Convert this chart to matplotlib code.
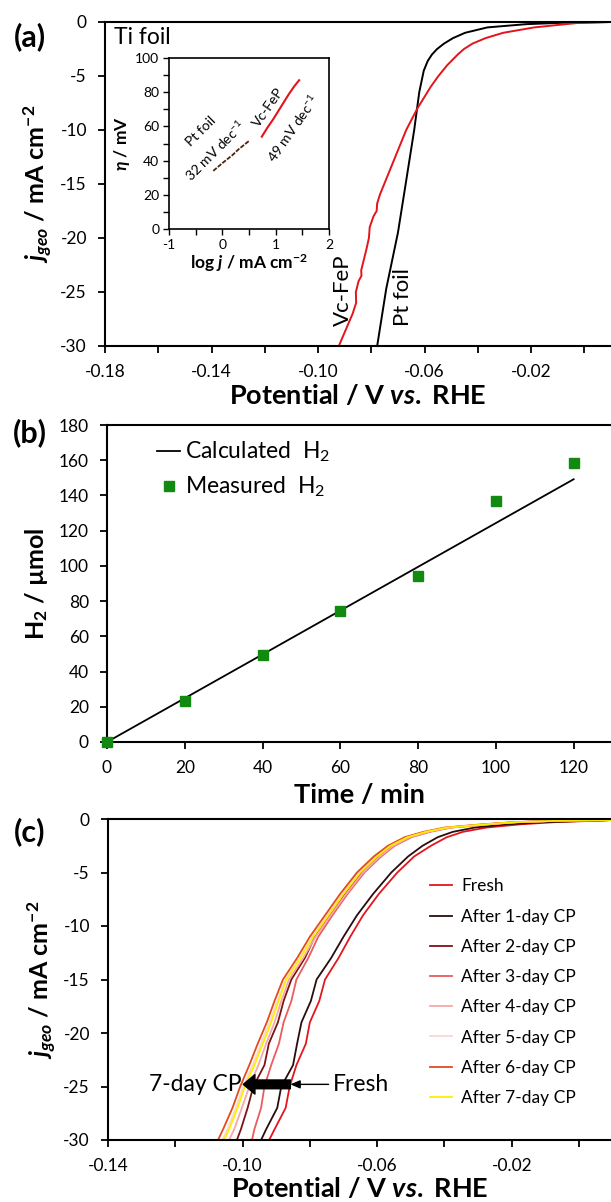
import matplotlib
matplotlib.use('Agg')
import matplotlib.pyplot as plt
from matplotlib.ticker import MultipleLocator, FixedLocator, FormatStrFormatter

plt.rcParams['font.family'] = ['Lato', 'DejaVu Sans']
plt.rcParams['mathtext.fontset'] = 'custom'
plt.rcParams['mathtext.rm'] = 'Lato:bold'
plt.rcParams['mathtext.it'] = 'Lato:italic:bold'
plt.rcParams['mathtext.bf'] = 'Lato:bold'
plt.rcParams['axes.unicode_minus'] = False

# ── (a) polarisation curves ──────────────────
J_PT = [0, -0.06, -0.2, -0.5, -1.0, -1.5, -2.0, -2.5, -3.0, -3.6, -4.5, -6.5, -10,
        -15, -19.5, -24.7, -30]
E_PT = [0.0100, -0.0071, -0.0218, -0.0364, -0.0448, -0.0494, -0.0527, -0.0553,
        -0.0572, -0.0588, -0.0603, -0.0620, -0.0639, -0.0671, -0.0700, -0.0744, -0.0778]

J_VC = [0, -0.1, -0.2, -0.5, -1, -1.5, -2, -2.5, -3, -4, -5, -6, -8, -10, -12, -14,
        -16, -16.8, -17.5, -18, -19, -20, -21, -22, -23, -23.5, -24, -25, -26, -27, -30]
E_VC = [0.0100, -0.0030, -0.0070, -0.0188, -0.0305, -0.0372, -0.0420, -0.0452,
        -0.0475, -0.0515, -0.0548, -0.0577, -0.0627, -0.0669, -0.0702, -0.0735,
        -0.0768, -0.0778, -0.0780, -0.0792, -0.0806, -0.0809, -0.0818, -0.0828,
        -0.0838, -0.0837, -0.0848, -0.0858, -0.0857, -0.0870, -0.0922]

# inset Tafel
LOGJ_PT = [-0.17, 0.0, 0.1, 0.2, 0.3, 0.4, 0.5]
ETA_PT = [34, 38.5, 41, 43.5, 46.5, 49, 51.5]
LOGJ_VC = [0.74, 0.85, 0.95, 1.05, 1.15, 1.25, 1.35, 1.44]
ETA_VC = [54, 59.5, 64, 69, 74, 79, 83.5, 87]

# ── (b) faradaic efficiency ──────────────────
TIME = [0, 20, 40, 60, 80, 100, 120]
H2_MEAS = [0, 23.5, 49.3, 74.2, 94.3, 137, 158.7]
TIME_CALC = [0, 120]
H2_CALC = [0, 149.2]

# ── (c) stability ────────────────────────────
J_C = [-0.1, -0.15, -0.3, -0.5, -0.8, -1.2, -1.7, -2.5, -3.5, -5, -7, -9, -11,
       -13, -15, -17, -19, -21, -23, -25, -27, -29, -30]
E_FRESH = [0.0095, 0.0060, -0.0075, -0.0175, -0.0275, -0.0345, -0.0393, -0.0440,
           -0.0490, -0.0540, -0.0595, -0.0642, -0.0680, -0.0715, -0.0755, -0.0772,
           -0.0800, -0.0812, -0.0840, -0.0860, -0.0872, -0.0905, -0.0921]
E_D1 = [0.0095, 0.0040, -0.0105, -0.0215, -0.0310, -0.0375, -0.0420, -0.0465,
        -0.0508, -0.0558, -0.0612, -0.0660, -0.0700, -0.0737, -0.0780, -0.0797,
        -0.0825, -0.0838, -0.0850, -0.0885, -0.0897, -0.0930, -0.0945]
E_D2 = [0.0095, -0.0045, -0.0188, -0.0277, -0.0388, -0.0450, -0.0505, -0.0555,
        -0.0595, -0.0645, -0.0695, -0.0740, -0.0785, -0.0815, -0.0855, -0.0878,
        -0.0895, -0.0922, -0.0935, -0.0968, -0.0985, -0.1005, -0.1017]
E_D3 = [0.0095, -0.0040, -0.0180, -0.0270, -0.0380, -0.0443, -0.0498, -0.0548,
        -0.0588, -0.0638, -0.0688, -0.0733, -0.0775, -0.0805, -0.0840, -0.0855,
        -0.0878, -0.0892, -0.0915, -0.0935, -0.0945, -0.0965, -0.0972]
E_D4 = [0.0095, -0.0045, -0.0185, -0.0275, -0.0385, -0.0448, -0.0503, -0.0552,
        -0.0592, -0.0642, -0.0692, -0.0738, -0.0783, -0.0820, -0.0862, -0.0885,
        -0.0905, -0.0930, -0.0953, -0.0980, -0.1002, -0.1025, -0.1040]
E_D5 = [0.0095, -0.0050, -0.0192, -0.0282, -0.0395, -0.0458, -0.0513, -0.0563,
        -0.0604, -0.0655, -0.0703, -0.0748, -0.0792, -0.0830, -0.0872, -0.0897,
        -0.0920, -0.0945, -0.0970, -0.0998, -0.1020, -0.1045, -0.1060]
E_D6 = [0.0095, -0.0055, -0.0200, -0.0288, -0.0400, -0.0462, -0.0518, -0.0568,
        -0.0610, -0.0660, -0.0710, -0.0755, -0.0800, -0.0838, -0.0880, -0.0905,
        -0.0928, -0.0955, -0.0980, -0.1007, -0.1030, -0.1058, -0.1073]
E_D7 = [0.0095, -0.0050, -0.0195, -0.0280, -0.0393, -0.0455, -0.0510, -0.0560,
        -0.0600, -0.0650, -0.0700, -0.0745, -0.0790, -0.0828, -0.0870, -0.0893,
        -0.0915, -0.0940, -0.0965, -0.0993, -0.1015, -0.1040, -0.1055]
C_LABELS = ['Fresh', 'After 1-day CP', 'After 2-day CP', 'After 3-day CP',
            'After 4-day CP', 'After 5-day CP', 'After 6-day CP', 'After 7-day CP']
C_COLORS = ['#e3161d', '#2a0d0d', '#7d1315', '#ec5b5d', '#f5a9a9', '#f7d9cf',
            '#e54a1c', '#ffee00']
C_SERIES = [E_FRESH, E_D1, E_D2, E_D3, E_D4, E_D5, E_D6, E_D7]

W, H = 611, 1202
fig = plt.figure(figsize=(W / 100, H / 100), dpi=100)


def rect(x0, y_top, y_bot, x1=W):
    return [x0 / W, 1 - y_bot / H, (x1 - x0) / W, (y_bot - y_top) / H]


def style(ax, size=12.5):
    for s in ['left', 'bottom', 'top']:
        ax.spines[s].set_linewidth(1.5)
    ax.spines['right'].set_visible(False)
    ax.tick_params(which='both', direction='out', length=5, width=1.3, labelsize=size)
    ax.tick_params(axis='x', pad=8)
    ax.tick_params(axis='y', pad=8)


# ── panel (a) ────────────────────────────────
axa = fig.add_axes(rect(105, 22, 346))
style(axa)
axa.plot(E_PT, J_PT, color='black', lw=1.4)
axa.plot(E_VC, J_VC, color='#e3141b', lw=1.4)
axa.set_xlim(-0.18, 0.0100)
axa.set_ylim(-30, 0)
axa.xaxis.set_major_locator(FixedLocator([-0.18, -0.14, -0.10, -0.06, -0.02]))
axa.xaxis.set_minor_locator(MultipleLocator(0.02))
axa.xaxis.set_major_formatter(FormatStrFormatter('%.2f'))
axa.yaxis.set_major_locator(MultipleLocator(5))
axa.set_xlabel(r'Potential / V $vs.$ RHE', fontsize=19.5, fontweight='bold')
axa.set_ylabel(r'$j_{geo}$ / mA cm$\mathregular{^{-2}}$', fontsize=18, fontweight='bold')
axa.xaxis.set_label_coords(0.5, -0.115)
axa.yaxis.set_label_coords(-0.10, 0.5)
axa.text(-0.1765, -1.4, 'Ti foil', fontsize=16.5, va='center', ha='left')
axa.text(-0.0905, -24.8, 'Vc-FeP', fontsize=16, rotation=90, ha='center', va='center')
axa.text(-0.0680, -25.5, 'Pt foil', fontsize=16, rotation=90, ha='center', va='center')
fig.text(29.5 / W, 1 - 37 / H, '(a)', fontsize=22, fontweight='bold', ha='center', va='center')

# inset
axi = fig.add_axes(rect(169, 58, 229, 329))
for s in axi.spines.values():
    s.set_linewidth(1.2)
axi.tick_params(which='both', direction='out', length=4, width=1.0, labelsize=10, pad=3)
axi.plot(LOGJ_PT, ETA_PT, color='#4a2410', lw=1.3, ls=(0, (2.5, 0.8)))
axi.plot(LOGJ_VC, ETA_VC, color='#e3141b', lw=1.5)
axi.set_xlim(-1, 2)
axi.set_ylim(0, 100)
axi.xaxis.set_major_locator(MultipleLocator(1))
axi.xaxis.set_minor_locator(MultipleLocator(0.5))
axi.yaxis.set_major_locator(MultipleLocator(20))
axi.yaxis.set_minor_locator(MultipleLocator(10))
axi.set_xlabel(r'log $j$ / mA cm$\mathregular{^{-2}}$', fontsize=12.5, fontweight='bold', labelpad=1)
axi.set_ylabel(r'$\eta$ / mV', fontsize=12.5, fontweight='bold', labelpad=2)
axi.text(-0.40, 57, 'Pt foil', fontsize=10, rotation=45, ha='center', va='center')
axi.text(-0.13, 46, r'32 mV dec$\mathregular{^{-1}}$', fontsize=10, rotation=45, ha='center', va='center')
axi.text(0.86, 71, 'Vc-FeP', fontsize=10, rotation=55, ha='center', va='center')
axi.text(1.33, 59, r'49 mV dec$\mathregular{^{-1}}$', fontsize=10, rotation=55, ha='center', va='center')

# ── panel (b) ────────────────────────────────
axb = fig.add_axes(rect(107, 425, 742))
style(axb)
axb.plot(TIME_CALC, H2_CALC, color='black', lw=1.3, label=r'Calculated  H$\mathregular{_2}$')
axb.plot(TIME, H2_MEAS, ls='none', marker='s', ms=7.5, color='#128a12',
         label=r'Measured  H$\mathregular{_2}$', clip_on=False, zorder=3)
axb.set_xlim(0, 129.6)
axb.set_ylim(0, 180)
axb.xaxis.set_major_locator(MultipleLocator(20))
axb.yaxis.set_major_locator(MultipleLocator(20))
axb.set_xlabel('Time / min', fontsize=19.5, fontweight='bold')
axb.set_ylabel(r'H$\mathregular{_2}$ / µmol', fontsize=18, fontweight='bold')
axb.xaxis.set_label_coords(0.5, -0.13)
axb.yaxis.set_label_coords(-0.113, 0.5)
axb.legend(loc='upper left', bbox_to_anchor=(0.1, 0.953), frameon=False, fontsize=16.5,
           handlelength=1.0, handletextpad=0.2, labelspacing=0.45, borderpad=0,
           borderaxespad=0)
fig.text(29.5 / W, 1 - 433 / H, '(b)', fontsize=22, fontweight='bold', ha='center', va='center')

# ── panel (c) ────────────────────────────────
axc = fig.add_axes(rect(108, 819, 1140))
style(axc)
for e, lab, col in zip(C_SERIES, C_LABELS, C_COLORS):
    axc.plot(e, J_C, color=col, lw=1.3, label=lab)
axc.set_xlim(-0.14, 0.0095)
axc.set_ylim(-30, 0)
axc.xaxis.set_major_locator(FixedLocator([-0.14, -0.10, -0.06, -0.02]))
axc.xaxis.set_minor_locator(MultipleLocator(0.02))
axc.xaxis.set_major_formatter(FormatStrFormatter('%.2f'))
axc.yaxis.set_major_locator(MultipleLocator(5))
axc.set_xlabel(r'Potential / V $vs.$ RHE', fontsize=19.5, fontweight='bold')
axc.set_ylabel(r'$j_{geo}$ / mA cm$\mathregular{^{-2}}$', fontsize=18, fontweight='bold')
axc.xaxis.set_label_coords(0.5, -0.112)
axc.yaxis.set_label_coords(-0.10, 0.5)
axc.legend(loc='upper left', bbox_to_anchor=(0.64, 0.815), frameon=False, fontsize=12.5,
           handlelength=1.3, handletextpad=0.5, labelspacing=0.82, borderpad=0,
           borderaxespad=0)
axc.annotate('', xy=(-0.0998, -24.8), xytext=(-0.0858, -24.8),
             arrowprops=dict(arrowstyle='simple,head_width=1.0,head_length=0.6,tail_width=0.45',
                             color='black', mutation_scale=14, shrinkA=0, shrinkB=0))
axc.annotate('Fresh', xy=(-0.0858, -24.8), xytext=(-0.0732, -24.8), fontsize=16.5,
             ha='left', va='center',
             arrowprops=dict(arrowstyle='-|>,head_length=0.35,head_width=0.15',
                             color='black', lw=1.0, shrinkA=1, shrinkB=0))
axc.text(-0.1002, -24.8, '7-day CP', fontsize=16.5, ha='right', va='center')
fig.text(29.5 / W, 1 - 832 / H, '(c)', fontsize=22, fontweight='bold', ha='center', va='center')

fig.savefig('out.png', dpi=100)
